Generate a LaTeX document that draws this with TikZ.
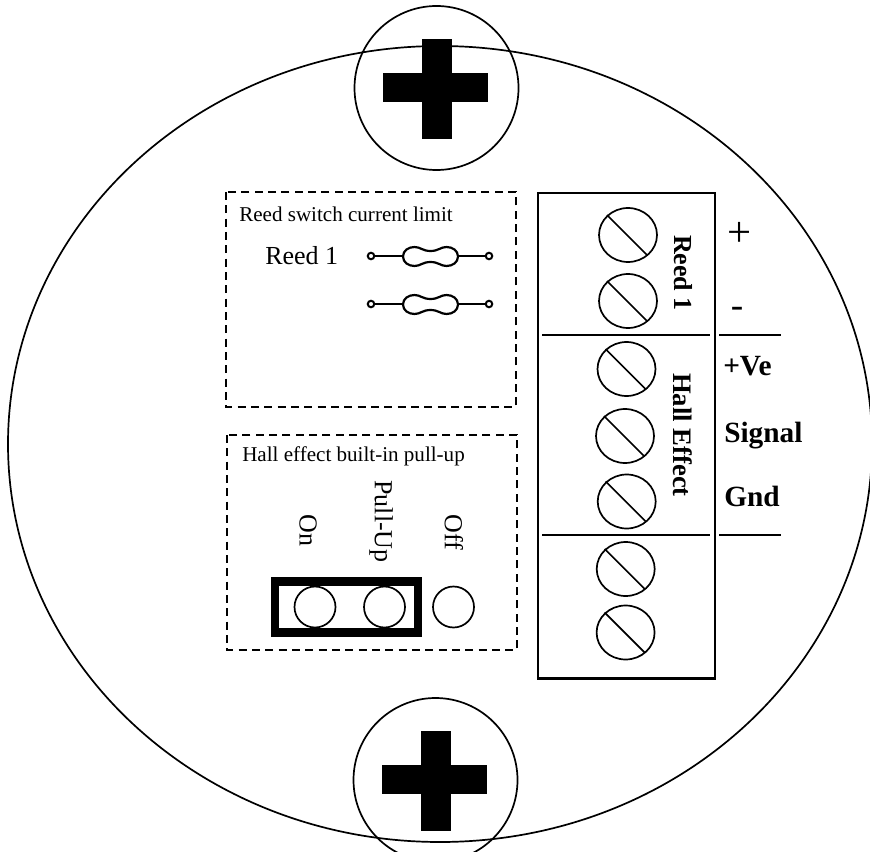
\documentclass[tikz,border=0pt]{standalone}
\usepackage{fontspec}
\setmainfont{Liberation Serif}
\usetikzlibrary{shapes.geometric}
\tikzset{
  x=0.75pt,y=-0.75pt,
  thinline/.style={draw=black,line width=1.7*0.75pt},
  medline/.style={draw=black,line width=2.2*0.75pt},
  dashbox/.style={draw=black,line width=2.4*0.75pt,dash pattern=on 6pt off 4pt},
  blk/.style={fill=black,draw=none},
  screwhead/.style={ellipse,draw=black,line width=1.7*0.75pt,minimum width=58*0.75pt,minimum height=54*0.75pt,inner sep=0pt},
  pin/.style={circle,draw=black,line width=1.7*0.75pt,minimum size=41*0.75pt,inner sep=0pt},
  tinypin/.style={circle,draw=black,line width=2*0.75pt,minimum size=6.5*0.75pt,inner sep=0pt},
  lbl/.style={inner sep=0pt,font=\fontsize{19.5}{23}\selectfont},
  lblb/.style={inner sep=0pt,font=\fontsize{19.5}{23}\selectfont\bfseries},
  lblh/.style={inner sep=0pt,font=\fontsize{20}{24}\selectfont\bfseries},
  lblc/.style={inner sep=0pt,font=\fontsize{22}{26}\selectfont\bfseries},
  smalltxt/.style={inner sep=0pt,font=\fontsize{15.8}{19}\selectfont},
  bigtxt/.style={inner sep=0pt,font=\fontsize{32}{36}\selectfont},
  midtxt/.style={inner sep=0pt,font=\fontsize{28}{32}\selectfont},
}
\newcommand{\fusebody}[2]{%
  \draw[medline] (#1-27.5,#2)
   .. controls (#1-27.5,#2-6) and (#1-22,#2-9.5) .. (#1-16,#2-9.5)
   .. controls (#1-10,#2-9.5) and (#1-8,#2-5.5) .. (#1,#2-5.5)
   .. controls (#1+8,#2-5.5) and (#1+10,#2-9.5) .. (#1+16,#2-9.5)
   .. controls (#1+22,#2-9.5) and (#1+27.5,#2-6) .. (#1+27.5,#2)
   .. controls (#1+27.5,#2+6) and (#1+22,#2+9.5) .. (#1+16,#2+9.5)
   .. controls (#1+10,#2+9.5) and (#1+8,#2+5.5) .. (#1,#2+5.5)
   .. controls (#1-8,#2+5.5) and (#1-10,#2+9.5) .. (#1-16,#2+9.5)
   .. controls (#1-22,#2+9.5) and (#1-27.5,#2+6) .. (#1-27.5,#2) -- cycle;}
\begin{document}
\begin{tikzpicture}
\useasboundingbox (0,0) rectangle (870,852);
\clip (0,0) rectangle (870,852);
% housing
\draw[thinline] (440,444) ellipse [x radius=432,y radius=398];
% mounting screws
\draw[thinline] (436.5,88) circle [radius=82];
\draw[thinline] (435.5,780) circle [radius=82];
\fill[blk] (422,39) rectangle (452,139);
\fill[blk] (383,73) rectangle (488,102);
\fill[blk] (421,731) rectangle (451,831);
\fill[blk] (382,765) rectangle (487,794);
% dashed groups
\draw[dashbox] (226,192) rectangle (516,407);
\draw[dashbox] (227,435) rectangle (517,650);
\node[smalltxt,anchor=west] (t1) at (239,214) {Reed switch current limit};
\node[smalltxt,anchor=west] (t2) at (242,456) {Hall effect built-in pull-up};
\node[lbl,anchor=west] (r1) at (265,256) {Reed 1};
% fuses
\node[tinypin] (fa) at (371,256) {};
\node[tinypin] (fb) at (489,256) {};
\node[tinypin] (fc) at (371,304) {};
\node[tinypin] (fd) at (489,304) {};
\coordinate (fa1) at (403,256);
\coordinate (fb1) at (458,256);
\coordinate (fc1) at (403,304);
\coordinate (fd1) at (458,304);
\draw[medline] (fa) -- (fa1);
\draw[medline] (fb1) -- (fb);
\draw[medline] (fc) -- (fc1);
\draw[medline] (fd1) -- (fd);
\fusebody{430.5}{256.5}
\fusebody{430.5}{304.5}
% jumper
\draw[draw=black,line width=8.5*0.75pt] (275,581.5) rectangle (418,632.5);
\node[pin] (p1) at (315,607) {};
\node[pin] (p2) at (384.5,607) {};
\node[pin] (p3) at (453.5,607) {};
\node[lbl,rotate=-90] (on) at (308,530.5) {On};
\node[lbl,rotate=-90] (pu) at (381,521.5) {Pull-Up};
\node[lbl,rotate=-90] (off) at (454,532.5) {Off};
% terminal block
\draw[medline] (538,193) rectangle (715,678.5);
\foreach \n/\xx/\yy in {a/628/235,b/628/301,c/626.5/369,d/625/436,e/626.7/501.5,f/625.7/569,g/625.6/632.5}{
  \node[screwhead] (s\n) at (\xx,\yy) {};
  \draw[thinline] (\xx-21,\yy-20) -- (\xx+19,\yy+20);
}
\coordinate (l1a) at (542,335); \coordinate (l1b) at (710,335);
\coordinate (l1c) at (719,335); \coordinate (l1d) at (781,335);
\coordinate (l2a) at (542,535); \coordinate (l2b) at (710,535);
\coordinate (l2c) at (719,535); \coordinate (l2d) at (781,535);
\draw[medline] (l1a) -- (l1b);
\draw[medline] (l1c) -- (l1d);
\draw[medline] (l2a) -- (l2b);
\draw[medline] (l2c) -- (l2d);
\node[lblb,rotate=-90] (rr) at (683,273) {Reed 1};
\node[lblh,rotate=-90] (he) at (683,435) {Hall Effect};
\node[bigtxt] (plus) at (740,234) {+};
\node[midtxt] (minus) at (737,312) {-};
\node[lblc,anchor=base west] (ve) at (723,375) {+Ve};
\node[lblc,anchor=base west] (sg) at (724,442) {Signal};
\node[lblc,anchor=base west] (gn) at (724,506) {Gnd};
\end{tikzpicture}
\end{document}
